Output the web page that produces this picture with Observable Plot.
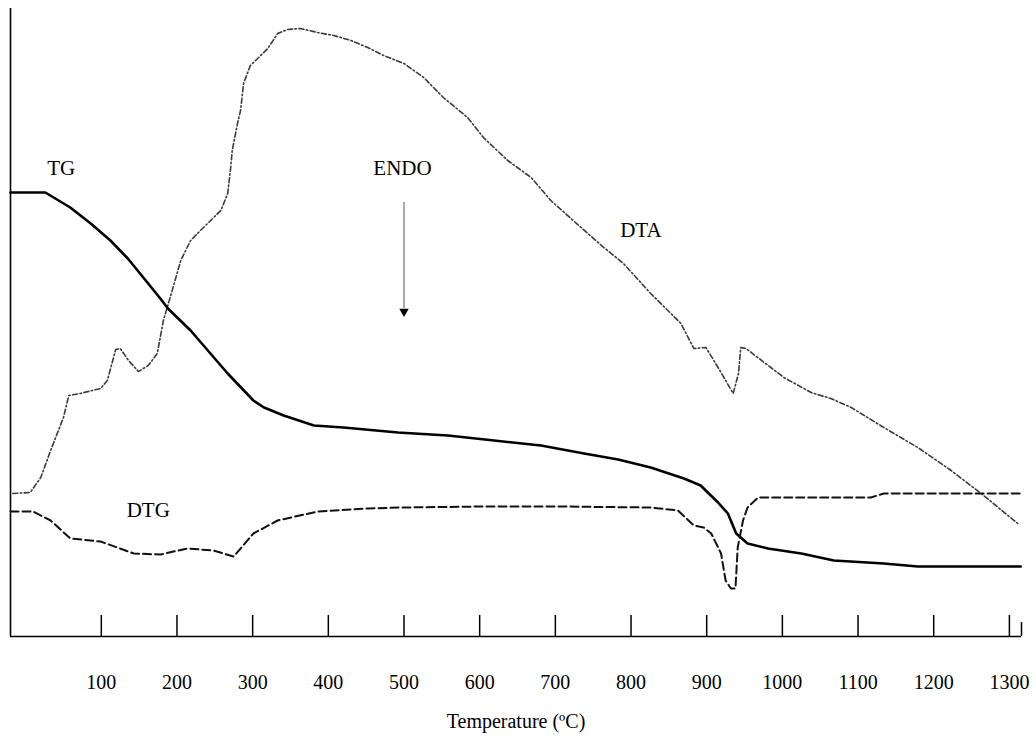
<!DOCTYPE html>
<html>
<head>
<meta charset="utf-8">
<script src="https://cdn.jsdelivr.net/npm/d3@7"></script>
<script src="https://cdn.jsdelivr.net/npm/@observablehq/plot@0.6"></script>
<style>
  html, body { margin: 0; padding: 0; background: #fff; }
  #chart svg { display: block; }
</style>
</head>
<body>
<div id="chart"></div>
<script>
// Temperature (°C) and signal (arbitrary units)
const tgTemp = [-20, 26, 59, 86, 112, 135, 148, 178, 188, 218, 267, 301, 315, 341, 381, 420, 492, 558, 619, 681, 738, 783, 826, 870, 892, 915, 928, 939, 954, 981, 1025, 1068, 1134, 1179, 1315];
const tgVal  = [444, 444, 429, 413, 396, 378, 366, 338, 328, 306, 263, 236, 229, 221, 211, 209, 204, 201, 196, 191, 183, 177, 169, 158, 151, 134, 123, 103, 93, 88, 83, 76, 73, 70, 70];

const dtaTemp = [-17, 6, 20, 33, 50, 57, 72, 99, 108, 119, 125, 136, 149, 162, 174, 182, 191, 205, 218, 231, 258, 267, 271, 273, 280, 284, 288, 297, 308, 320, 333, 346, 363, 386, 407, 430, 452, 473, 500, 526, 552, 584, 605, 637, 668, 694, 734, 764, 790, 826, 866, 883, 899, 915, 935, 942, 945, 952, 976, 1002, 1038, 1064, 1091, 1134, 1179, 1223, 1266, 1311];
const dtaVal  = [143, 144, 159, 186, 219, 241, 243, 248, 256, 287, 288, 276, 265, 271, 283, 316, 339, 376, 396, 406, 426, 443, 469, 486, 513, 526, 553, 571, 579, 588, 603, 607, 608, 604, 601, 596, 589, 581, 573, 559, 539, 519, 499, 476, 459, 436, 409, 389, 373, 343, 313, 288, 289, 269, 243, 263, 289, 288, 274, 259, 244, 238, 229, 209, 189, 166, 141, 113];

const dtgTemp = [-20, 10, 33, 59, 99, 143, 178, 214, 248, 275, 301, 333, 386, 452, 496, 601, 707, 826, 862, 883, 896, 906, 919, 925, 932, 938, 941, 948, 954, 968, 1117, 1134, 1315];
const dtgVal  = [125, 125, 116, 98, 95, 83, 82, 88, 86, 80, 103, 116, 125, 128, 129, 130, 130, 129, 126, 111, 109, 103, 83, 56, 48, 48, 89, 116, 129, 139, 139, 143, 143];

const tickValues = [100, 200, 300, 400, 500, 600, 700, 800, 900, 1000, 1100, 1200, 1300];
const xDomain = [-20, 1316];
const yDomain = [0, 628];

const labelText = ["TG", "ENDO", "DTA", "DTG"];
const labelTemp = [47, 498, 813, 162];
const labelVal  = [468, 468, 406, 126];

const arrowTemp = 500;
const arrowFrom = 434;
const arrowTo = 325;

const axisTitle = "Temperature (ºC)";

const toRows = (xs, ys) => xs.map((x, i) => ({x, y: ys[i]}));
const tg = toRows(tgTemp, tgVal);
const dta = toRows(dtaTemp, dtaVal);
const dtg = toRows(dtgTemp, dtgVal);
const labels = labelText.map((t, i) => ({text: t, x: labelTemp[i], y: labelVal[i]}));

const font = "'Liberation Serif', 'Times New Roman', serif";

const chart = Plot.plot({
  width: 1036,
  height: 743,
  marginTop: 8,
  marginBottom: 107,
  marginLeft: 10,
  marginRight: 15,
  style: {fontFamily: font, fontSize: "20px", background: "#fff", color: "#000"},
  x: {domain: xDomain},
  y: {domain: yDomain, axis: null},
  marks: [
    Plot.axisX({ticks: tickValues, tickSize: 0, tickPadding: 38, tickFormat: d => `${d}`, label: null, fontSize: 20, fontFamily: font}),
    Plot.ruleY([0], {stroke: "#000", strokeWidth: 1.5}),
    Plot.ruleX([xDomain[0]], {stroke: "#000", strokeWidth: 1.6}),
    Plot.ruleX(tickValues, {x: d => d, y1: 0, y2: 21, stroke: "#000", strokeWidth: 1.5}),
    Plot.ruleX([xDomain[1]], {x: d => d, y1: 0, y2: 14, stroke: "#000", strokeWidth: 1.5}),
    Plot.line(dta, {x: "x", y: "y", stroke: "#3a3a3a", strokeWidth: 1.6, strokeDasharray: "5,2.5,1.5,2.5"}),
    Plot.line(dtg, {x: "x", y: "y", stroke: "#111", strokeWidth: 2, strokeDasharray: "8,4"}),
    Plot.line(tg, {x: "x", y: "y", stroke: "#000", strokeWidth: 2.6}),
    Plot.ruleX([arrowTemp], {x: d => d, y1: arrowFrom, y2: arrowTo + 3, stroke: "#555", strokeWidth: 1}),
    Plot.dot([arrowTemp], {x: d => d, y: arrowTo, symbol: "triangle", rotate: 180, r: 3.5, fill: "#000", stroke: "none"}),
    Plot.text(labels, {x: "x", y: "y", text: "text", fontSize: 21, fontFamily: font, fill: "#000"}),
    Plot.text([axisTitle], {frameAnchor: "bottom", dy: 91, fontSize: 20, fontFamily: font, fill: "#000"})
  ]
});
document.getElementById("chart").appendChild(chart);
</script>
</body>
</html>
